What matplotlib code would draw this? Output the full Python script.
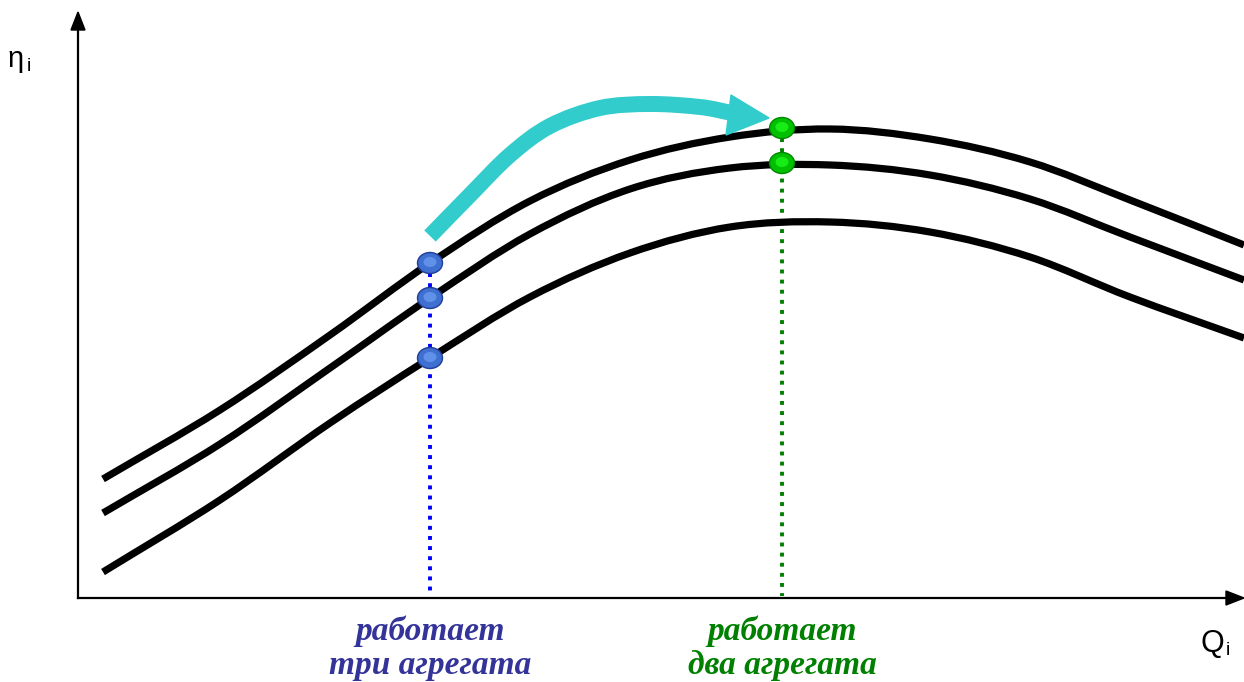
import numpy as np
import matplotlib
matplotlib.use("Agg")
import matplotlib.pyplot as plt
from matplotlib.patches import Ellipse, Polygon, PathPatch
from matplotlib.path import Path

# curve samples (x, y in picture pixels, y grows downward)
q = [103, 220, 330, 430, 530, 630, 730, 830, 930, 1030, 1130, 1244]
eta_top = [479, 410, 335, 263, 201, 160, 137, 129, 139, 162, 200, 245]
eta_mid = [513, 444, 368, 298, 234, 189, 168, 165, 175, 199, 237, 280]
eta_low = [572, 500, 423, 358, 297, 253, 227, 222, 232, 257, 297, 338]

# operating points
q_three = 430
eta_three = [263, 298, 358]
q_two = 782
eta_two = [128, 163]

labels_three = "работает\nтри агрегата"
labels_two = "работает\nдва агрегата"


def smooth_path(xs, ys):
    # Catmull-Rom through the points, handed to matplotlib as cubic Bezier segments
    p = np.column_stack([xs, ys]).astype(float)
    ext = np.vstack([2 * p[0] - p[1], p, 2 * p[-1] - p[-2]])
    verts = [p[0]]
    codes = [Path.MOVETO]
    for i in range(1, len(ext) - 2):
        p0, p1, p2, p3 = ext[i - 1], ext[i], ext[i + 1], ext[i + 2]
        verts += [p1 + (p2 - p0) / 6, p2 - (p3 - p1) / 6, p2]
        codes += [Path.CURVE4] * 3
    return Path(verts, codes)


fig = plt.figure(figsize=(12.44, 6.82), dpi=100)
ax = fig.add_axes([0, 0, 1, 1])
ax.set_xlim(0, 1244)
ax.set_ylim(682, 0)
ax.axis("off")

# axes with arrows
x0, y0 = 78, 598
ax.plot([x0, x0], [y0, 28], color="black", lw=1.6)
ax.plot([x0, 1228], [y0, y0], color="black", lw=1.6)
ax.add_patch(Polygon([[x0 - 7, 30], [x0 + 7, 30], [x0, 12]], closed=True, color="black"))
ax.add_patch(Polygon([[1226, y0 - 7], [1226, y0 + 7], [1244, y0]], closed=True, color="black"))

ax.text(8, 67, "η", fontsize=21, family="Liberation Sans", va="baseline", ha="left")
ax.text(27, 71, "i", fontsize=14, family="Liberation Sans", va="baseline", ha="left")
ax.text(1200, 652, "Q", fontsize=22, family="Liberation Sans", va="baseline", ha="left")
ax.text(1226, 655, "i", fontsize=14, family="Liberation Sans", va="baseline", ha="left")

# dotted verticals
ax.plot([q_three, q_three], [eta_three[0], y0 - 2], color="#0000ff", lw=2.8,
        linestyle=(0, (1, 1.6)), dash_capstyle="butt", zorder=2)
ax.plot([q_two, q_two], [eta_two[0], y0 - 2], color="#008000", lw=2.8,
        linestyle=(0, (1, 1.6)), dash_capstyle="butt", zorder=2)

# efficiency curves
for eta in (eta_top, eta_mid, eta_low):
    ax.add_patch(PathPatch(smooth_path(q, eta), facecolor="none", edgecolor="black",
                           lw=5.2, capstyle="butt", joinstyle="round", zorder=3))

# cyan arrow
shaft_x = [430, 470, 510, 550, 600, 650, 700, 732]
shaft_y = [236, 195, 155, 126, 108, 104, 107, 113]
ax.add_patch(PathPatch(smooth_path(shaft_x, shaft_y), facecolor="none", edgecolor="#33cccc",
                       lw=11.5, capstyle="butt", joinstyle="round", zorder=4))
ax.add_patch(Polygon([[731, 95], [769, 118], [726, 135]], closed=True,
                     color="#33cccc", zorder=4))


# operating-point markers
def blob(x, y, edge, fill, light):
    ax.add_patch(Ellipse((x, y), 25, 21, facecolor=fill, edgecolor=edge, lw=1.0, zorder=5))
    ax.add_patch(Ellipse((x, y - 1), 13, 10, facecolor=light, edgecolor="none",
                         alpha=0.7, zorder=6))


for y in eta_three:
    blob(q_three, y, "#1f3f99", "#3f6fd0", "#6fa0f5")
for y in eta_two:
    blob(q_two, y, "#008800", "#00c000", "#22ff22")

ax.text(q_three, 648, labels_three, fontsize=24, family="Liberation Serif",
        style="italic", weight="bold", color="#333399", ha="center", va="center",
        linespacing=1.12)
ax.text(q_two, 648, labels_two, fontsize=24, family="Liberation Serif",
        style="italic", weight="bold", color="#008000", ha="center", va="center",
        linespacing=1.12)

fig.savefig("out.png", dpi=100)
